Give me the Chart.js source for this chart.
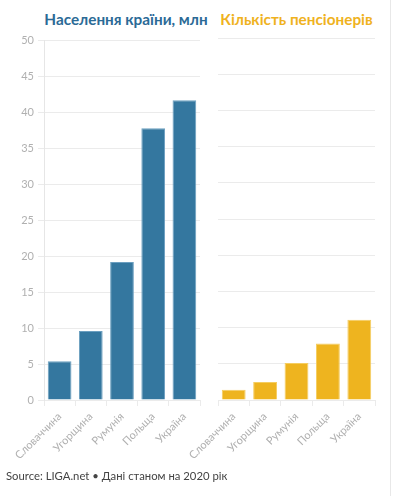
<!DOCTYPE html>
<html>
<head>
<meta charset="utf-8">
<script src="https://cdn.jsdelivr.net/npm/chart.js@4"></script>
<style>
  body { margin: 0; width: 393px; height: 496px; background: #fff; position: relative; overflow: hidden; font-family: Lato, "Open Sans", sans-serif; }
  .edge { position: absolute; left: 390px; top: 0; width: 1px; height: 496px; background: #e8e8e8; }
  .ttl { position: absolute; top: 10px; font-weight: bold; font-size: 15.3px; white-space: nowrap; text-align: center; }
  #t1 { left: 44px; width: 164px; color: #2b6a96; }
  #t2 { left: 218px; width: 157px; color: #efb21e; }
  #src { position: absolute; left: 6px; top: 469px; font-size: 11.3px; color: #444; }
  #w1 { position: absolute; left: 0; top: 30px; width: 205px; height: 440px; }
  #w2 { position: absolute; left: 183px; top: 30px; width: 197px; height: 440px; }
</style>
</head>
<body>
<div class="edge"></div>
<div class="ttl" id="t1">Населення країни, млн</div>
<div class="ttl" id="t2">Кількість пенсіонерів</div>
<div id="w1"><canvas id="popChart"></canvas></div>
<div id="w2"><canvas id="penChart"></canvas></div>
<div id="src">Source: LIGA.net • Дані станом на 2020 рік</div>
<script>
/* --------------- Data --------------------- */
const countries = ['Словаччина', 'Угорщина', 'Румунія', 'Польща', 'Україна'];
const population = [5.4, 9.6, 19.2, 37.8, 41.7];
const pensioners = [1.4, 2.5, 5.1, 7.8, 11.1];
const yMax = 50;
const yStep = 5;

const fontFam = 'Lato, "Open Sans", sans-serif';
const gridCol = '#ebebeb';
const tickCol = '#b0b0b0';

/* --------------- Shared options --------------------- */
function makeOptions(isLeft) {
  return {
    responsive: true,
    maintainAspectRatio: false,
    animation: false,
    layout: { padding: { top: 8, right: 5, bottom: 0, left: 0 } },
    plugins: { legend: { display: false }, tooltip: { enabled: false } },
    scales: {
      x: {
        grid: { drawOnChartArea: false, drawTicks: true, tickLength: 6, color: gridCol },
        border: { display: false },
        ticks: { minRotation: 45, maxRotation: 45, color: tickCol, padding: 4, font: { family: fontFam, size: 11 } },
        afterFit: (scale) => { scale.height = 70; },
      },
      y: {
        min: 0,
        max: yMax,
        grid: { color: gridCol, drawTicks: isLeft, tickLength: 6 },
        border: { display: isLeft, color: '#e6e6e6' },
        ticks: { display: isLeft, stepSize: yStep, color: tickCol, padding: 4, font: { family: fontFam, size: 11 } },
        afterFit: (scale) => { scale.width = isLeft ? 44 : 35; },
      },
    },
  };
}

/* --------------- Charts --------------------- */
new Chart(document.getElementById('popChart'), {
  type: 'bar',
  data: {
    labels: countries,
    datasets: [{
      data: population,
      backgroundColor: '#34779f',
      borderColor: '#6b9fc0',
      borderWidth: 1,
      barPercentage: 0.76,
      categoryPercentage: 1,
    }],
  },
  options: makeOptions(true),
});

new Chart(document.getElementById('penChart'), {
  type: 'bar',
  data: {
    labels: countries,
    datasets: [{
      data: pensioners,
      backgroundColor: '#eeb41f',
      borderColor: '#f5cd60',
      borderWidth: 1,
      barPercentage: 0.76,
      categoryPercentage: 1,
    }],
  },
  options: makeOptions(false),
});
</script>
</body>
</html>
